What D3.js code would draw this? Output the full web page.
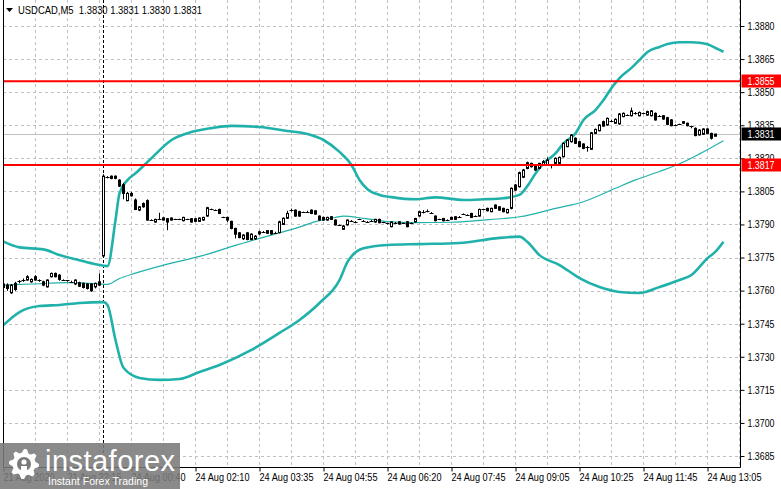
<!DOCTYPE html>
<html>
<head>
<meta charset="utf-8">
<script src="https://cdn.jsdelivr.net/npm/d3@7"></script>
<style>
body { margin: 0; background: #fff; }
svg { display: block; }
text { font-family: "Liberation Sans", Arial, sans-serif; }
</style>
</head>
<body>
<svg width="781" height="489"></svg>
<script>
// chart data (M5 bars, index 0 = first visible bar)
var symbol = "USDCAD,M5";
var lastQuote = ["1.3830", "1.3831", "1.3830", "1.3831"];

var opens = [
 1.37630,1.37625,1.37590,1.37633,1.37640,1.37645,1.37648,1.37640,1.37663,1.37648,
 1.37640,1.37617,1.37663,1.37678,1.37670,1.37648,1.37645,1.37640,1.37630,1.37636,
 1.37633,1.37630,1.37630,1.37617,1.37640,1.37757,1.38113,1.38119,1.38119,1.38101,
 1.38080,1.38008,1.38041,1.38011,1.37965,1.37995,1.38008,1.37920,1.37911,1.37923,
 1.37920,1.37926,1.37920,1.37923,1.37923,1.37917,1.37923,1.37926,1.37914,1.37914,
 1.37920,1.37938,1.37968,1.37965,1.37968,1.37932,1.37932,1.37914,1.37882,1.37862,
 1.37835,1.37862,1.37832,1.37835,1.37857,1.37867,1.37872,1.37872,1.37863,1.37863,
 1.37900,1.37928,1.37965,1.37965,1.37958,1.37955,1.37958,1.37965,1.37962,1.37938,
 1.37932,1.37920,1.37935,1.37920,1.37898,1.37878,1.37898,1.37917,1.37912,1.37923,
 1.37917,1.37912,1.37917,1.37911,1.37923,1.37910,1.37905,1.37890,1.37908,1.37912,
 1.37905,1.37912,1.37905,1.37912,1.37938,1.37958,1.37962,1.37953,1.37938,1.37923,
 1.37917,1.37920,1.37923,1.37923,1.37935,1.37947,1.37943,1.37950,1.37938,1.37938,
 1.37968,1.37973,1.37958,1.37988,1.37980,1.37973,1.37953,1.37973,1.38079,1.38071,
 1.38114,1.38154,1.38162,1.38170,1.38154,1.38170,1.38170,1.38170,1.38177,1.38177,
 1.38207,1.38253,1.38275,1.38291,1.38275,1.38265,1.38253,1.38241,1.38313,1.38325,
 1.38366,1.38351,1.38371,1.38359,1.38356,1.38389,1.38396,1.38393,1.38404,1.38393,
 1.38404,1.38396,1.38393,1.38404,1.38393,1.38393,1.38384,1.38374,1.38351,1.38354,
 1.38366,1.38359,1.38345,1.38336,1.38306,1.38309,1.38333,1.38313,1.38300
];
var highs = [
 1.37640,1.37633,1.37630,1.37640,1.37648,1.37655,1.37670,1.37655,1.37670,1.37651,
 1.37645,1.37651,1.37682,1.37682,1.37675,1.37651,1.37648,1.37645,1.37651,1.37640,
 1.37636,1.37633,1.37633,1.37636,1.37678,1.38128,1.38119,1.38122,1.38122,1.38105,
 1.38089,1.38048,1.38048,1.38018,1.37983,1.38000,1.38014,1.37923,1.37926,1.37953,
 1.37932,1.37929,1.37932,1.37926,1.37926,1.37935,1.37926,1.37929,1.37929,1.37932,
 1.37935,1.37980,1.37972,1.37968,1.37972,1.37935,1.37935,1.37917,1.37885,1.37865,
 1.37856,1.37865,1.37860,1.37852,1.37872,1.37870,1.37875,1.37875,1.37867,1.37917,
 1.37932,1.37962,1.37972,1.37968,1.37962,1.37958,1.37962,1.37968,1.37965,1.37941,
 1.37935,1.37935,1.37938,1.37923,1.37900,1.37898,1.37923,1.37920,1.37915,1.37926,
 1.37920,1.37915,1.37920,1.37926,1.37926,1.37912,1.37908,1.37914,1.37911,1.37915,
 1.37908,1.37915,1.37908,1.37930,1.37962,1.37965,1.37968,1.37956,1.37941,1.37926,
 1.37930,1.37923,1.37935,1.37938,1.37938,1.37950,1.37946,1.37953,1.37941,1.37972,
 1.37971,1.37976,1.37976,1.37991,1.37983,1.37976,1.37971,1.38068,1.38083,1.38140,
 1.38152,1.38185,1.38180,1.38174,1.38180,1.38192,1.38204,1.38174,1.38204,1.38208,
 1.38272,1.38287,1.38310,1.38295,1.38279,1.38268,1.38256,1.38320,1.38335,1.38355,
 1.38371,1.38385,1.38375,1.38381,1.38405,1.38408,1.38399,1.38430,1.38410,1.38412,
 1.38407,1.38416,1.38419,1.38408,1.38396,1.38396,1.38388,1.38378,1.38354,1.38357,
 1.38369,1.38362,1.38348,1.38340,1.38332,1.38336,1.38336,1.38316,1.38310
];
var lows = [
 1.37605,1.37599,1.37585,1.37599,1.37633,1.37640,1.37645,1.37636,1.37645,1.37640,
 1.37620,1.37614,1.37660,1.37660,1.37645,1.37645,1.37640,1.37636,1.37625,1.37617,
 1.37610,1.37605,1.37595,1.37610,1.37620,1.37750,1.38109,1.38105,1.38105,1.38070,
 1.38014,1.38005,1.38026,1.37965,1.37960,1.37976,1.37917,1.37917,1.37908,1.37920,
 1.37917,1.37874,1.37917,1.37920,1.37920,1.37914,1.37920,1.37908,1.37911,1.37911,
 1.37917,1.37935,1.37965,1.37962,1.37947,1.37929,1.37911,1.37878,1.37837,1.37837,
 1.37830,1.37828,1.37828,1.37830,1.37853,1.37863,1.37857,1.37853,1.37860,1.37860,
 1.37898,1.37925,1.37958,1.37935,1.37935,1.37952,1.37955,1.37947,1.37944,1.37917,
 1.37917,1.37917,1.37920,1.37895,1.37893,1.37875,1.37895,1.37914,1.37908,1.37920,
 1.37914,1.37908,1.37914,1.37908,1.37905,1.37906,1.37900,1.37887,1.37905,1.37899,
 1.37902,1.37887,1.37902,1.37908,1.37935,1.37950,1.37955,1.37950,1.37914,1.37920,
 1.37914,1.37917,1.37920,1.37920,1.37932,1.37944,1.37940,1.37929,1.37935,1.37935,
 1.37965,1.37959,1.37955,1.37970,1.37962,1.37955,1.37950,1.37968,1.38052,1.38068,
 1.38110,1.38150,1.38158,1.38143,1.38150,1.38166,1.38166,1.38154,1.38174,1.38174,
 1.38204,1.38250,1.38272,1.38265,1.38250,1.38241,1.38230,1.38238,1.38310,1.38322,
 1.38343,1.38348,1.38368,1.38356,1.38352,1.38386,1.38392,1.38390,1.38398,1.38390,
 1.38400,1.38393,1.38390,1.38371,1.38390,1.38375,1.38350,1.38345,1.38348,1.38351,
 1.38356,1.38345,1.38336,1.38300,1.38303,1.38306,1.38310,1.38285,1.38300
];
var closes = [
 1.37614,1.37610,1.37625,1.37605,1.37642,1.37648,1.37663,1.37651,1.37648,1.37646,
 1.37625,1.37648,1.37678,1.37663,1.37651,1.37648,1.37646,1.37640,1.37648,1.37620,
 1.37614,1.37610,1.37599,1.37633,1.37625,1.38119,1.38113,1.38109,1.38109,1.38074,
 1.38041,1.38041,1.38030,1.37968,1.37980,1.37980,1.37920,1.37920,1.37923,1.37923,
 1.37930,1.37911,1.37929,1.37923,1.37923,1.37932,1.37923,1.37911,1.37926,1.37929,
 1.37932,1.37976,1.37968,1.37965,1.37950,1.37932,1.37920,1.37882,1.37856,1.37841,
 1.37852,1.37832,1.37856,1.37847,1.37867,1.37867,1.37860,1.37857,1.37863,1.37912,
 1.37928,1.37950,1.37965,1.37938,1.37938,1.37955,1.37958,1.37950,1.37947,1.37920,
 1.37920,1.37932,1.37923,1.37898,1.37898,1.37893,1.37920,1.37917,1.37912,1.37923,
 1.37917,1.37912,1.37917,1.37923,1.37908,1.37910,1.37905,1.37911,1.37908,1.37902,
 1.37905,1.37890,1.37905,1.37927,1.37958,1.37958,1.37962,1.37953,1.37917,1.37923,
 1.37927,1.37920,1.37932,1.37935,1.37935,1.37947,1.37943,1.37932,1.37938,1.37968,
 1.37968,1.37962,1.37973,1.37973,1.37965,1.37958,1.37968,1.38064,1.38056,1.38135,
 1.38147,1.38180,1.38177,1.38147,1.38177,1.38185,1.38192,1.38170,1.38200,1.38204,
 1.38268,1.38283,1.38306,1.38268,1.38253,1.38245,1.38253,1.38316,1.38331,1.38351,
 1.38346,1.38381,1.38371,1.38377,1.38401,1.38404,1.38396,1.38415,1.38404,1.38408,
 1.38404,1.38412,1.38415,1.38374,1.38393,1.38378,1.38354,1.38348,1.38351,1.38354,
 1.38359,1.38348,1.38345,1.38303,1.38328,1.38333,1.38313,1.38291,1.38310
];

// Bollinger bands, sampled at bar indices
var upperIdx = [0,4,10,14,19,23,26,28,29,31,33,37,42,47,52,57,64,71,76,80,84,87,89,91,94,97,103,108,115,120,125,129,131,133,135,138,140,143,145,148,150,152,154,157,159,161,164,166,169,172,174,176,178,180];
var upperBand = [1.37822,1.37796,1.37787,1.37761,1.37738,1.37720,1.37711,1.37920,1.38041,1.38101,1.38132,1.38201,1.38283,1.38319,1.38337,1.38347,1.38342,1.38324,1.38310,1.38283,1.38229,1.38170,1.38102,1.38060,1.38034,1.38024,1.38014,1.38023,1.38011,1.38014,1.38019,1.38034,1.38075,1.38131,1.38177,1.38222,1.38268,1.38313,1.38374,1.38419,1.38464,1.38519,1.38564,1.38610,1.38646,1.38682,1.38705,1.38718,1.38726,1.38726,1.38724,1.38717,1.38700,1.38683];
var middleIdx = [0,7,16,24,26,29,33,41,49,58,64,68,73,78,83,85,90,96,103,112,120,125,129,138,145,153,158,164,169,174,180];
var middleBand = [1.37625,1.37630,1.37636,1.37630,1.37628,1.37655,1.37679,1.37720,1.37755,1.37805,1.37837,1.37857,1.37882,1.37913,1.37932,1.37938,1.37928,1.37913,1.37908,1.37910,1.37920,1.37927,1.37935,1.37973,1.38003,1.38064,1.38102,1.38140,1.38175,1.38220,1.38280];
var lowerIdx = [0,4,9,14,19,25,26,28,30,34,39,44,49,54,62,69,74,79,84,86,90,96,104,114,123,129,131,134,139,144,149,154,159,164,169,172,176,178,180];
var lowerBand = [1.37444,1.37503,1.37530,1.37535,1.37544,1.37548,1.37535,1.37376,1.37250,1.37204,1.37195,1.37199,1.37231,1.37263,1.37331,1.37408,1.37467,1.37544,1.37648,1.37730,1.37792,1.37807,1.37811,1.37816,1.37837,1.37845,1.37820,1.37761,1.37716,1.37657,1.37616,1.37594,1.37589,1.37616,1.37648,1.37671,1.37747,1.37777,1.37822];

var levels = [1.3855, 1.3817];
var bidPrice = 1.3831;
var separatorIdx = 25;

var yTicks = [1.3685,1.3700,1.3715,1.3730,1.3745,1.3760,1.3775,1.3790,1.3805,1.3820,1.3835,1.3850,1.3865,1.3880];
var xTickIdx = [0,16,32,48,64,80,96,112,128,144,160,176];
var xTickText = ["21 Aug 2020","21 Aug 22:15","24 Aug 00:40","24 Aug 02:10","24 Aug 03:35","24 Aug 04:55",
                 "24 Aug 06:20","24 Aug 07:45","24 Aug 09:05","24 Aug 10:25","24 Aug 11:45","24 Aug 13:05"];

function main() {
	var svg = d3.select("svg"),
		left = 3, right = 740.5, bottom = 467.5,
		fs = "10.5px";

	var x = d3.scaleLinear().domain([0, 184]).range([3.5, 739.5]);
	var y = d3.scaleLinear().domain([1.3685, 1.3880]).range([456, 26]);
	var teal = "#20b2aa";

	// squeeze the text a bit, MT4 style labels are narrow
	function narrow(sel, len) {
		sel.attr("lengthAdjust", "spacingAndGlyphs").attr("textLength", len);
	}

	svg.append("defs").append("clipPath").attr("id", "plot")
		.append("rect").attr("x", left + 0.5).attr("y", 0).attr("width", right - left - 0.5).attr("height", bottom);

	var plot = svg.append("g").attr("clip-path", "url(#plot)");

	// grid
	plot.selectAll(".hg").data(yTicks).enter().append("line")
		.attr("x1", left).attr("x2", right)
		.attr("y1", function(d){ return Math.round(y(d)) + 0.5; })
		.attr("y2", function(d){ return Math.round(y(d)) + 0.5; })
		.attr("stroke", "#c0c0c0").attr("stroke-dasharray", "3,3");
	plot.selectAll(".vg").data(d3.range(8, 185, 8)).enter().append("line")
		.attr("x1", function(d){ return x(d); }).attr("x2", function(d){ return x(d); })
		.attr("y1", 0).attr("y2", bottom)
		.attr("stroke", "#c0c0c0").attr("stroke-dasharray", "3,3");

	// period separator
	plot.append("line")
		.attr("x1", x(separatorIdx)).attr("x2", x(separatorIdx))
		.attr("y1", 0).attr("y2", bottom)
		.attr("stroke", "#000").attr("stroke-dasharray", "3,2");

	// bid line
	plot.append("line")
		.attr("x1", left).attr("x2", right)
		.attr("y1", Math.round(y(bidPrice)) + 0.5).attr("y2", Math.round(y(bidPrice)) + 0.5)
		.attr("stroke", "#c0c0c0");

	// bands
	function band(idx, vals) {
		return d3.line().curve(d3.curveMonotoneX)
			.x(function(d){ return x(d); })
			.y(function(d, i){ return y(vals[i]); })(idx);
	}
	plot.append("path").attr("d", band(middleIdx, middleBand))
		.attr("fill", "none").attr("stroke", teal).attr("stroke-width", 1.2);
	plot.append("path").attr("d", band(upperIdx, upperBand))
		.attr("fill", "none").attr("stroke", teal).attr("stroke-width", 2.6);
	plot.append("path").attr("d", band(lowerIdx, lowerBand))
		.attr("fill", "none").attr("stroke", teal).attr("stroke-width", 2.6);

	// candles
	var bars = plot.selectAll(".bar").data(opens).enter().append("g");
	bars.append("line")
		.attr("x1", function(d, i){ return x(i); }).attr("x2", function(d, i){ return x(i); })
		.attr("y1", function(d, i){ return y(highs[i]); })
		.attr("y2", function(d, i){ return y(lows[i]); })
		.attr("stroke", "#000");
	bars.each(function(o, i) {
		var g = d3.select(this), c = closes[i];
		var y0 = y(Math.max(o, c)), y1 = y(Math.min(o, c));
		if (y1 - y0 < 1) {
			g.append("line").attr("x1", x(i) - 2).attr("x2", x(i) + 2)
				.attr("y1", Math.round(y0) + 0.5).attr("y2", Math.round(y0) + 0.5)
				.attr("stroke", "#000");
		} else {
			g.append("rect").attr("x", x(i) - 1).attr("width", 2)
				.attr("y", y0).attr("height", y1 - y0)
				.attr("fill", c >= o ? "#fff" : "#000").attr("stroke", "#000");
		}
	});

	// horizontal levels
	plot.selectAll(".lvl").data(levels).enter().append("line")
		.attr("x1", left).attr("x2", right)
		.attr("y1", function(d){ return y(d); }).attr("y2", function(d){ return y(d); })
		.attr("stroke", "#ff0000").attr("stroke-width", 2);

	// frame
	svg.append("path")
		.attr("d", "M" + (left + 0.5) + ",0V" + bottom + "H" + right + "V0")
		.attr("fill", "none").attr("stroke", "#000");

	// price axis
	var ya = svg.append("g").attr("transform", "translate(" + right + ",0)")
		.call(d3.axisRight(y).tickValues(yTicks).tickSize(4).tickPadding(3).tickFormat(d3.format(".4f")));
	ya.select(".domain").remove();
	ya.selectAll("text").attr("font-size", fs).attr("font-family", null).attr("fill", "#000").call(narrow, 27);

	// time axis
	var xa = svg.append("g").attr("transform", "translate(0," + bottom + ")")
		.call(d3.axisBottom(x).tickValues(xTickIdx).tickSize(4).tickPadding(2)
			.tickFormat(function(d, i){ return xTickText[i]; }));
	xa.select(".domain").remove();
	xa.selectAll("text").attr("text-anchor", "start").attr("dx", "-0.5")
		.attr("font-size", fs).attr("font-family", null).attr("fill", "#000")
		.call(narrow, function(d, i){ return i === 0 ? 51 : 54; });

	// price tags
	function tag(price, bg) {
		var yy = Math.round(y(price));
		svg.append("rect").attr("x", right + 1).attr("y", yy - 6.5).attr("width", 781 - right).attr("height", 13).attr("fill", bg);
		svg.append("text").attr("x", right + 7).attr("y", yy).attr("dy", "0.36em")
			.attr("font-size", fs).attr("fill", "#fff").text(price.toFixed(4)).call(narrow, 27);
	}
	levels.forEach(function(p){ tag(p, "#ff0000"); });
	tag(bidPrice, "#000");

	// header
	svg.append("path").attr("d", "M6,8H13L9.5,12Z").attr("fill", "#000");
	svg.append("text").attr("x", 18).attr("y", 14).attr("font-size", fs).attr("fill", "#000")
		.attr("xml:space", "preserve")
		.text(symbol + "  " + lastQuote.join(" ")).call(narrow, 184);

	// watermark logo
	var logo = svg.append("g");
	logo.append("rect").attr("x", 0).attr("y", 443).attr("width", 180).attr("height", 46)
		.attr("fill", "#7a7a7a").attr("opacity", 0.88);
	var gear = [], teeth = 8, cx = 24, cy = 464;
	for (var k = 0; k < teeth * 4; k++) {
		var a = (k / (teeth * 4)) * Math.PI * 2 - Math.PI / 2;
		var r = (k % 4 === 0 || k % 4 === 1) ? 15 : 11.5;
		gear.push([cx + r * Math.cos(a), cy + r * Math.sin(a)]);
	}
	logo.append("path").attr("d", d3.line()(gear) + "Z").attr("fill", "#fff");
	logo.append("circle").attr("cx", cx).attr("cy", cy).attr("r", 7).attr("fill", "#7a7a7a");
	logo.append("circle").attr("cx", cx).attr("cy", cy - 2).attr("r", 2.6).attr("fill", "#fff");
	logo.append("path").attr("d", "M" + (cx - 3) + "," + (cy + 2) + "h6v9h-6z").attr("fill", "#fff");
	logo.append("text").attr("x", 45).attr("y", 471).attr("font-family", "Lato, 'Open Sans', sans-serif")
		.attr("font-size", "29px").attr("fill", "#fff").attr("textLength", 130).text("instaforex");
	logo.append("text").attr("x", 48).attr("y", 485).attr("font-family", "Lato, 'Open Sans', sans-serif")
		.attr("font-size", "10.5px").attr("fill", "#fff").attr("textLength", 100).text("Instant Forex Trading");
}
main();
</script>
</body>
</html>
